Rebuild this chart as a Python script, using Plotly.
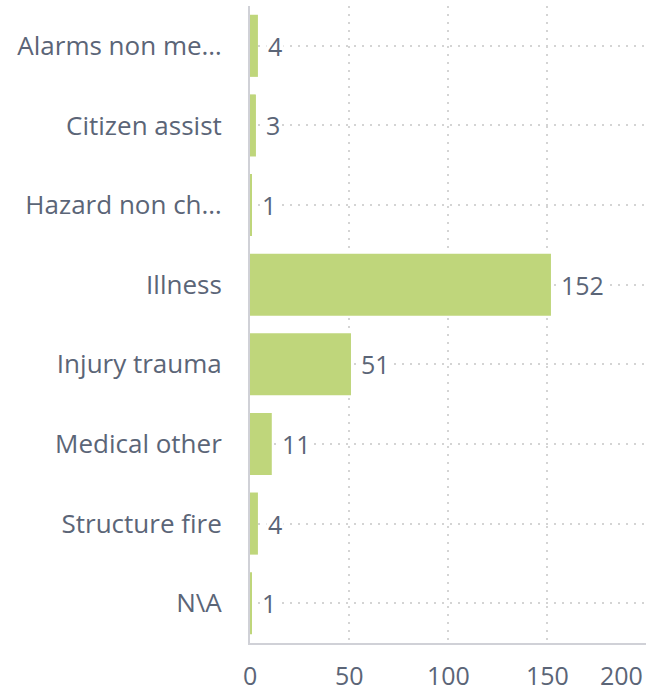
import plotly.graph_objects as go

categories = ["Alarms non me…", "Citizen assist", "Hazard non ch…", "Illness",
              "Injury trauma", "Medical other", "Structure fire", "N\\A"]
values = [4, 3, 1, 152, 51, 11, 4, 1]
x_ticks = [0, 50, 100, 150, 200]
x_tick_labels = ["0", "50", "100", "150", "200"]

BAR = "#bfd67b"
TXT = "#5b6577"
GRID = "#d4d4d4"
AXIS = "#d0d1d7"
FONT = "Open Sans"
FS = 25
YFS = 26

fig = go.Figure()
fig.add_trace(go.Bar(
    x=values, y=categories, orientation="h",
    marker=dict(color=BAR, line=dict(width=0)),
    hoverinfo="x+y",
))

for c, v in zip(categories, values):
    fig.add_annotation(x=v, y=c, text=str(v), showarrow=False,
                       xanchor="left", yanchor="middle", xshift=8,
                       bgcolor="white", borderpad=1,
                       font=dict(family=FONT, size=FS, color=TXT))

# x tick labels (last one kept inside the plot edge)
for i, (t, lab) in enumerate(zip(x_ticks, x_tick_labels)):
    last = i == len(x_ticks) - 1
    fig.add_annotation(x=t, y=0, xref="x", yref="paper", text=lab,
                       showarrow=False, yanchor="top", yshift=-13,
                       xanchor="right" if last else "center",
                       xshift=-1 if last else 0,
                       font=dict(family=FONT, size=FS, color=TXT))

fig.update_layout(
    width=663, height=697,
    margin=dict(l=250, r=17, t=6, b=54),
    plot_bgcolor="white", paper_bgcolor="white",
    bargap=0.22, showlegend=False,
    font=dict(family=FONT, size=FS, color=TXT),
    xaxis=dict(range=[0, 200], tickvals=x_ticks, showticklabels=False,
               showgrid=True, gridcolor=GRID, gridwidth=2, griddash="2px,6px",
               zeroline=False, showline=True, linecolor=AXIS, linewidth=2,
               automargin=False, fixedrange=True),
    yaxis=dict(categoryorder="array", categoryarray=categories[::-1],
               showgrid=True, gridcolor=GRID, gridwidth=2, griddash="2px,6px",
               zeroline=False, showline=True, linecolor=AXIS, linewidth=2,
               ticks="", ticklabelstandoff=21, automargin=False,
               tickfont=dict(family=FONT, size=YFS, color=TXT),
               fixedrange=True),
)

fig.write_html("out.html", config={"displayModeBar": False},
               post_script="document.body.style.margin='0';")
